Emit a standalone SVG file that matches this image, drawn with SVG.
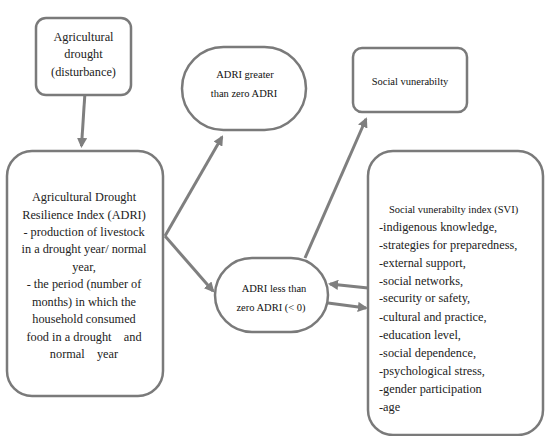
<svg xmlns="http://www.w3.org/2000/svg" width="550" height="436" viewBox="0 0 550 436">
<style>
.box{fill:#fff;stroke:#7a7a7a;stroke-width:2.5}
.t{font-family:'Liberation Serif','Times New Roman','DejaVu Serif',serif;font-size:12.3px;fill:#222}
.s{font-family:'Liberation Serif','Times New Roman','DejaVu Serif',serif;font-size:10.5px;fill:#111}
.c{text-anchor:middle}
.ln{stroke:#7f7f7f;stroke-width:3;fill:none}
</style>
<defs>
<marker id="ah" viewBox="0 0 10 10" refX="8" refY="5" markerWidth="3.4" markerHeight="3.4" orient="auto" markerUnits="strokeWidth">
<path d="M0,0 L10,5 L0,10 z" fill="#7f7f7f"/>
</marker>
</defs>
<rect width="550" height="436" fill="#fff"/>
<g id="connectors">
<line class="ln" x1="85" y1="92" x2="81.5" y2="146" marker-end="url(#ah)"/>
<line class="ln" x1="165" y1="236" x2="222" y2="137" marker-end="url(#ah)"/>
<line class="ln" x1="165" y1="236" x2="213" y2="291" marker-end="url(#ah)"/>
<line class="ln" x1="305" y1="258" x2="366" y2="119" marker-end="url(#ah)"/>
<line class="ln" x1="368" y1="288" x2="330" y2="284" marker-end="url(#ah)"/>
<line class="ln" x1="328" y1="303" x2="366" y2="308" marker-end="url(#ah)"/>
</g>
<g id="drought">
<rect class="box" x="36" y="18" width="95" height="77" rx="10"/>
<text class="t c" x="83.5" y="41">Agricultural</text>
<text class="t c" x="83.5" y="58">drought</text>
<text class="t c" x="83.5" y="76">(disturbance)</text>
</g>
<g id="adri">
<rect class="box" x="7" y="151" width="156" height="245" rx="25"/>
<text class="t c" x="84" y="201">Agricultural Drought</text>
<text class="t c" x="84" y="219">Resilience Index (ADRI)</text>
<text class="t c" x="84" y="236">- production of livestock</text>
<text class="t c" x="84" y="253">in a drought year/ normal</text>
<text class="t c" x="84" y="271">year,</text>
<text class="t c" x="84" y="288">- the period (number of</text>
<text class="t c" x="84" y="306">months) in which the</text>
<text class="t c" x="84" y="323">household consumed</text>
<text class="t c" x="84" y="341" xml:space="preserve">food in a drought    and</text>
<text class="t c" x="84" y="358" xml:space="preserve">normal    year</text>
</g>
<g id="adri-greater">
<rect class="box" x="182" y="47" width="124" height="83" rx="41.5"/>
<text class="s c" x="245" y="78">ADRI greater</text>
<text class="s c" x="244" y="97">than zero ADRI</text>
</g>
<g id="social-vuln">
<rect class="box" x="353" y="48" width="114" height="64" rx="9"/>
<text class="s c" x="410" y="85">Social vunerabilty</text>
</g>
<g id="adri-less">
<rect class="box" x="215" y="258" width="113" height="74" rx="37"/>
<text class="s c" x="274" y="292">ADRI less than</text>
<text class="s c" x="271" y="311">zero ADRI (&lt; 0)</text>
</g>
<g id="svi">
<rect class="box" x="368" y="151" width="175" height="284" rx="25"/>
<text class="s" x="389" y="213">Social vunerabilty index (SVI)</text>
<text class="t" x="379" y="231">-indigenous knowledge,</text>
<text class="t" x="379" y="249">-strategies for preparedness,</text>
<text class="t" x="379" y="267">-external support,</text>
<text class="t" x="379" y="285">-social networks,</text>
<text class="t" x="379" y="302">-security or safety,</text>
<text class="t" x="379" y="321">-cultural and practice,</text>
<text class="t" x="379" y="339">-education level,</text>
<text class="t" x="379" y="357">-social dependence,</text>
<text class="t" x="379" y="375">-psychological stress,</text>
<text class="t" x="379" y="393">-gender participation</text>
<text class="t" x="379" y="411">-age</text>
</g>
</svg>
